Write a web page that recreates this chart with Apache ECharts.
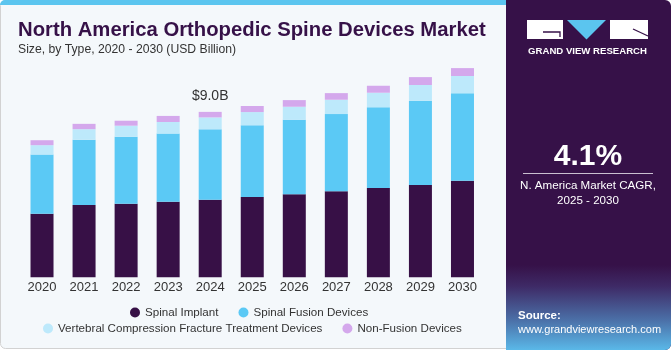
<!DOCTYPE html>
<html>
<head>
<meta charset="utf-8">
<script src="https://cdn.jsdelivr.net/npm/echarts@6/dist/echarts.min.js"></script>
<style>
html,body{margin:0;padding:0;background:#ffffff;}
#c{width:671px;height:350px;}
</style>
</head>
<body>
<div id="c"></div>
<script>
const categories = ['2020','2021','2022','2023','2024','2025','2026','2027','2028','2029','2030'];
const spinalImplant = [3.46,3.93,4.00,4.11,4.22,4.36,4.51,4.67,4.85,5.02,5.25];
const spinalFusion = [3.21,3.55,3.64,3.70,3.82,3.90,4.05,4.20,4.39,4.58,4.75];
const vertebralCompression = [0.51,0.57,0.60,0.63,0.65,0.72,0.71,0.78,0.79,0.85,0.94];
const nonFusion = [0.27,0.29,0.27,0.33,0.30,0.33,0.36,0.36,0.38,0.43,0.43];
const seriesNames = ['Spinal Implant','Spinal Fusion Devices','Vertebral Compression Fracture Treatment Devices','Non-Fusion Devices'];
const colors = ['#371046','#5bc9f5','#bde9fb','#d4a8ec'];
const annotationIndex = 4;
const annotationText = '$9.0B';

const chart = echarts.init(document.getElementById('c'), null, {renderer:'canvas'});
const font = 'Liberation Sans, Arial, sans-serif';
const dataSets = [spinalImplant, spinalFusion, vertebralCompression, nonFusion];

const series = dataSets.map((d, i) => ({
  name: seriesNames[i],
  type: 'bar',
  stack: 'total',
  data: d,
  barWidth: 23,
  itemStyle: {color: colors[i]},
  label: i === 3 ? {
    show: true,
    position: 'top',
    distance: 9,
    fontSize: 14,
    fontFamily: font,
    color: '#333333',
    formatter: p => p.dataIndex === annotationIndex ? annotationText : ''
  } : {show:false},
  emphasis: {disabled: true}
}));

const legendText = {fontSize:11.6, color:'#333333', fontFamily:font};

chart.setOption({
  animation: false,
  backgroundColor: '#ffffff',
  color: colors,
  graphic: [
    {type:'rect', z:-10, shape:{x:0.5,y:0.5,width:520,height:348,r:5}, style:{fill:'#f4f8fb', stroke:'#d2d2d2', lineWidth:1}},
    {type:'rect', z:-9, shape:{x:0,y:0,width:520,height:5,r:[5,0,0,0]}, style:{fill:'#5bc5ef'}},
    {type:'rect', z:-8, shape:{x:506,y:0,width:165,height:350,r:[0,6,6,0]}, style:{fill:'#361148'}},
    {type:'rect', z:-7, shape:{x:506,y:265,width:165,height:85,r:[0,0,6,0]}, style:{fill:{type:'linear',x:0,y:0,x2:0,y2:1,colorStops:[{offset:0,color:'rgba(54,17,72,1)'},{offset:0.25,color:'#3e2a66'},{offset:0.65,color:'#4b70a8'},{offset:1,color:'#5ab8e8'}]}}},
    // logo
    {type:'rect', shape:{x:527,y:20,width:36,height:19}, style:{fill:'#ffffff'}},
    {type:'polyline', shape:{points:[[543,32],[560,32],[560,37]]}, style:{stroke:'#361148', lineWidth:1.3, fill:null}},
    {type:'polygon', shape:{points:[[567,20],[606,20],[586.5,39.5]]}, style:{fill:'#5bc5ef'}},
    {type:'rect', shape:{x:610,y:20,width:38,height:19}, style:{fill:'#ffffff'}},
    {type:'line', shape:{x1:633,y1:29,x2:648,y2:36}, style:{stroke:'#361148', lineWidth:1.3}},
    {type:'text', style:{x:587.5,y:51,text:'GRAND VIEW RESEARCH', fill:'#ffffff', font:'bold 9.6px '+font, align:'center', verticalAlign:'middle'}},
    // CAGR
    {type:'text', style:{x:588,y:157,text:'4.1%', fill:'#ffffff', font:'bold 30px '+font, align:'center', verticalAlign:'middle'}},
    {type:'line', shape:{x1:523,y1:173.5,x2:653,y2:173.5}, style:{stroke:'#c9bfd0', lineWidth:1}},
    {type:'text', style:{x:588,y:186,text:'N. America Market CAGR,', fill:'#ffffff', font:'11.6px '+font, align:'center', verticalAlign:'middle'}},
    {type:'text', style:{x:588,y:201,text:'2025 - 2030', fill:'#ffffff', font:'11.6px '+font, align:'center', verticalAlign:'middle'}},
    // source
    {type:'text', style:{x:518,y:316,text:'Source:', fill:'#ffffff', font:'bold 11.5px '+font, align:'left', verticalAlign:'middle'}},
    {type:'text', style:{x:518,y:330,text:'www.grandviewresearch.com', fill:'#ffffff', font:'11px '+font, align:'left', verticalAlign:'middle'}},
    // titles
    {type:'text', style:{x:18,y:30,text:'North America Orthopedic Spine Devices Market', fill:'#361148', font:'bold 20.3px '+font, align:'left', verticalAlign:'middle'}},
    {type:'text', style:{x:18,y:50,text:'Size, by Type, 2020 - 2030 (USD Billion)', fill:'#333333', font:'12.2px '+font, align:'left', verticalAlign:'middle'}}
  ],
  legend: [
    {data: seriesNames.slice(0,2), left: 130, top: 306.5, padding:0, icon:'circle', itemWidth:10, itemHeight:10, itemGap:20,
     textStyle:legendText, selectedMode:false},
    {data: seriesNames.slice(2), left: 43, top: 322.5, padding:0, icon:'circle', itemWidth:10, itemHeight:10, itemGap:20,
     textStyle:legendText, selectedMode:false}
  ],
  grid: {left:21, right:187.5, top:56.5, bottom:72.7, containLabel:false},
  xAxis: {
    type:'category', data: categories,
    axisLine:{show:false}, axisTick:{show:false},
    axisLabel:{fontSize:13, color:'#333333', fontFamily:font, margin:4}
  },
  yAxis: {type:'value', min:0, max:12, show:false, splitLine:{show:false}},
  series: series
});
</script>
</body>
</html>
